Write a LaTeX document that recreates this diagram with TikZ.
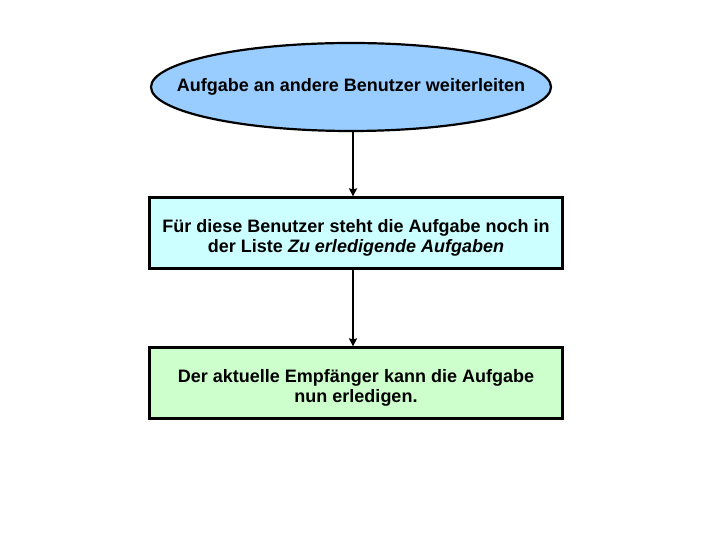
\documentclass[tikz,border=0pt]{standalone}
\usepackage{fontspec}
\setmainfont{Liberation Sans}
\usetikzlibrary{arrows.meta,shapes.geometric}

\begin{document}
\begin{tikzpicture}[x=1pt, y=1pt,
  startnode/.style={ellipse, draw, line width=2.2pt, fill=startblue, minimum width=400pt, minimum height=88pt, inner xsep=-33pt, inner ysep=0pt, font=\bfseries\fontsize{18}{20}\selectfont},
  stepbox/.style={rectangle, draw, line width=2.2pt, minimum width=413pt, minimum height=71pt, align=center, text height=42pt, font=\bfseries\fontsize{18}{20}\selectfont},
  flow/.style={line width=2.2pt, -{Stealth[length=8pt, width=8pt, inset=1pt]}}]

\definecolor{startblue}{HTML}{99CCFF}
\definecolor{listcyan}{HTML}{CCFFFF}
\definecolor{donegreen}{HTML}{CCFFCC}

\useasboundingbox (0,0) rectangle (720,540);

\node[startnode] (forward) at (351,453) {Aufgabe an andere Benutzer weiterleiten};

\node[stepbox, fill=listcyan] (pending) at (356,307)
  {Für diese Benutzer steht die Aufgabe noch in\\der Liste \textit{Zu erledigende Aufgaben}};

\node[stepbox, fill=donegreen] (finish) at (356,157)
  {Der aktuelle Empfänger kann die Aufgabe\\nun erledigen.};

\draw[flow]
  ([xshift=2pt]forward.south) -- ([xshift=2pt]forward.south |- pending.north);

\draw[flow]
  ([xshift=-3pt]pending.south) -- ([xshift=-3pt]finish.north);

\end{tikzpicture}
\end{document}
